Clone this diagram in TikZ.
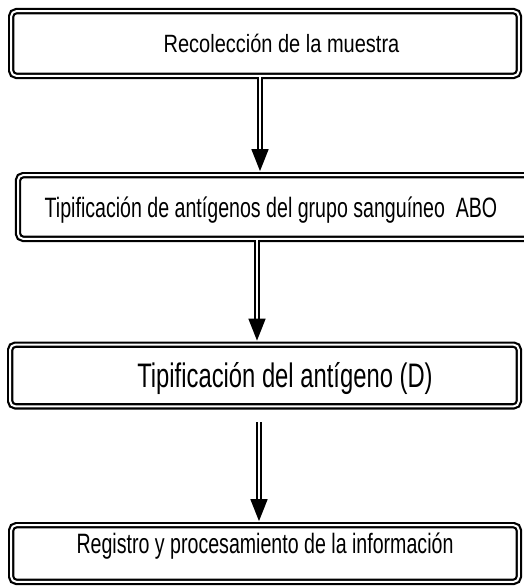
\documentclass[tikz,border=0pt]{standalone}
\usepackage{fontspec}
\newfontfamily\flowfont[FakeStretch=0.8]{Liberation Sans}
\newfontfamily\flownarrow[FakeStretch=0.7]{Liberation Sans}
\usetikzlibrary{arrows.meta}

\begin{document}
\begin{tikzpicture}
	[   x=1pt,y=1pt,
	    pbox/.style={draw=black,double=white,line width=2.2pt,double distance=2pt,rounded corners=5pt,minimum width=#1,inner sep=0pt,text depth=0pt},
	]
	\tikzset{flow arrow/.style={draw,line width=1.8pt,double=white,double distance=1.6pt,-{Triangle[length=22pt,width=17pt]},shorten >=3pt}}
	\useasboundingbox (0,0) rectangle (523,-586);
	
	\node[pbox=507.6pt,minimum height=64.6pt,text height=17.9pt,font=\flowfont\fontsize{25}{30}\selectfont] (b-1) at (265,-43.5) {\hspace*{33pt}Recolección de la muestra};
	\node[pbox=524pt,minimum height=63.6pt,text height=20pt,font=\flownarrow\fontsize{28}{32}\selectfont] (b-2) at (280,-207) {Tipificación de antígenos del grupo sanguíneo \ ABO\hspace*{18pt}};
	\node[pbox=508.6pt,minimum height=61.6pt,text height=24.3pt,font=\flownarrow\fontsize{34}{38}\selectfont] (b-3) at (264.5,-375.5) {\hspace*{41pt}Tipificación del antígeno (D)};
	\node[pbox=507.6pt,minimum height=56.6pt,text height=20pt,text depth=21pt,font=\flownarrow\fontsize{28}{32}\selectfont] (b-4) at (265,-553.5) {Registro y procesamiento de la información};
	
	\path[flow arrow] ([xshift=-5pt]b-1.south) -- ([xshift=-5pt]b-1.south |- b-2.north);
	\path[flow arrow] ([xshift=-23pt]b-2.south) -- ([xshift=-23pt]b-2.south |- b-3.north);
	\path[flow arrow,shorten <=15pt] ([xshift=-5.5pt]b-3.south) -- ([xshift=-5.5pt]b-3.south |- b-4.north);
\end{tikzpicture}
\end{document}
